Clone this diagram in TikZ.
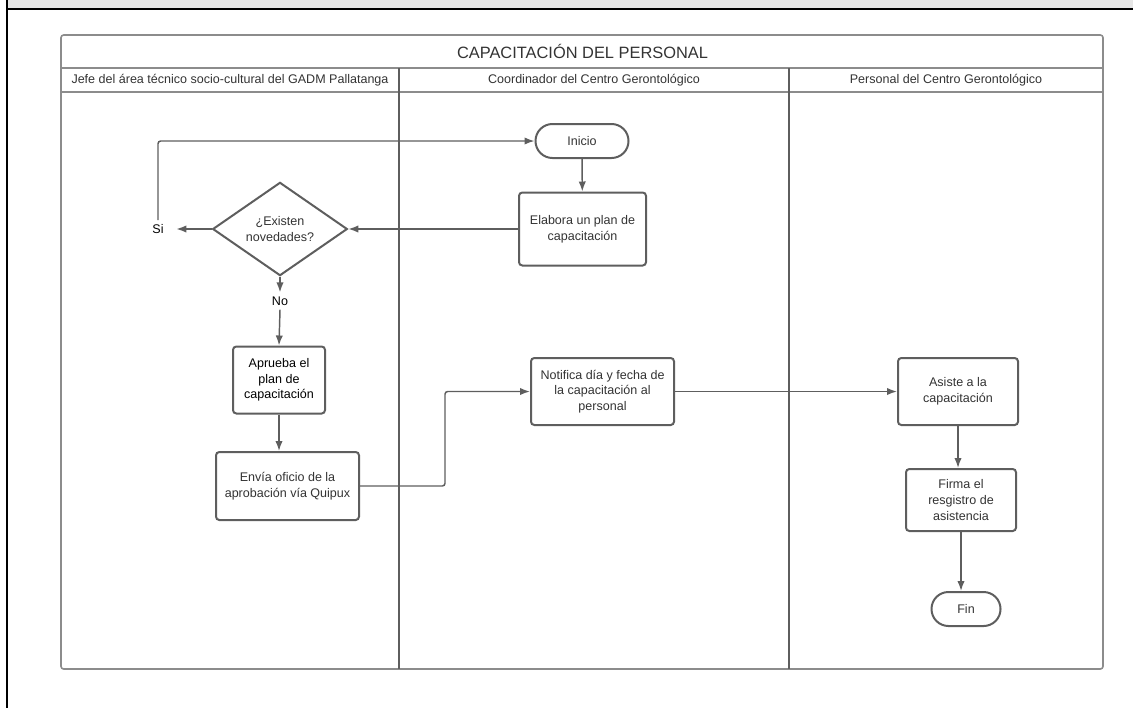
\documentclass[tikz,border=0pt]{standalone}
\usepackage{fontspec}
\setmainfont{Liberation Sans}
\usepackage{tikz}
\usetikzlibrary{arrows.meta, positioning, calc, shapes.geometric}
\definecolor{lnc}{HTML}{5E5E5E}
\definecolor{txc}{HTML}{333333}
\definecolor{poc}{HTML}{8C8C8C}
\definecolor{bandc}{HTML}{E6E6E6}

\begin{document}
\begin{tikzpicture}[x=0.75pt, y=-0.75pt, >=Latex,
    font=\fontsize{9.4}{11.8}\selectfont, text=txc,
    proc/.style={draw=lnc, line width=1.5pt, rounded corners=2.5pt,
      fill=white, align=center, inner sep=2pt},
    term/.style={proc, rounded corners=12.7pt, minimum height=25.5pt},
    decide/.style={diamond, draw=lnc, line width=1.5pt, fill=white,
      align=center, inner sep=0pt, minimum width=101pt, minimum height=70pt},
    flow/.style={->, draw=lnc, line width=1.1pt, rounded corners=2pt,
      >={Latex[length=7.5pt, width=5.5pt]}},
    lbl/.style={inner sep=3pt}]
  \useasboundingbox (0,0) rectangle (1137,708);
  % page frame
  \fill[bandc] (8,0) rectangle (1133,7.5);
  \draw[black, line width=1.5pt] (7,8.5) -- (1133,8.5);
  \draw[black, line width=1.5pt] (7,0) -- (7,708);
  % pool and lanes
  \draw[poc, line width=1.2pt, rounded corners=2pt] (61,35) rectangle (1103,669);
  \draw[poc, line width=1.2pt] (61,68) -- (1103,68) (61,92) -- (1103,92);
  \foreach \x in {399, 789}
    \draw[lnc, line width=1.2pt] (\x,68) -- (\x,669);
  \node[font=\fontsize{12.3}{14}\selectfont] (title) at (582.5,51) {CAPACITACIÓN DEL PERSONAL};
  \foreach \n/\x/\t in {jefe/230/Jefe del área técnico socio-cultural del GADM Pallatanga,
      coord/594/Coordinador del Centro Gerontológico,
      pers/946/Personal del Centro Gerontológico}
    \node (\n) at (\x,80) {\t};
  % steps
  \node[term, minimum width=69.75pt] (inicio) at (582,141) {Inicio};
  \node[proc, minimum width=95.25pt, minimum height=54.75pt] (elabora) at (582.5,229)
    {Elabora un plan de\\capacitación};
  \node[decide] (novedades) at (280,229) {¿Existen\\novedades?};
  \node[lbl, text=black] (si) at (158,229) {Si};
  \node[lbl, text=black] (no) at (280,301) {No};
  \node[proc, text=black, minimum width=69pt, minimum height=50.25pt] (aprueba) at (279,380)
    {Aprueba el\\plan de\\capacitación};
  \node[proc, minimum width=107.25pt, minimum height=51pt] (envia) at (287.5,486)
    {Envía oficio de la\\aprobación vía Quipux};
  \node[proc, minimum width=107.25pt, minimum height=50.25pt] (notifica) at (602.5,391.5)
    {Notifica día y fecha de\\la capacitación al\\personal};
  \node[proc, minimum width=90pt, minimum height=50.25pt] (asiste) at (958,391.5)
    {Asiste a la\\capacitación};
  \node[proc, minimum width=82.5pt, minimum height=46.5pt] (firma) at (961,500)
    {Firma el\\resgistro de\\asistencia};
  \node[term, minimum width=51.75pt] (fin) at (966,609) {Fin};
  % connectors
  \draw[flow] (inicio) -- (elabora);
  \draw[flow] (elabora.west) -- (novedades.east);
  \draw[flow, shorten >=6.4pt] (novedades.west) -- (si.east);
  \draw[flow] (si.north) |- (inicio.west);
  \draw[flow] (novedades.south) -- (no.north);
  \draw[flow] (no.south) -- (aprueba.north);
  \draw[flow] (aprueba.south) -- (aprueba.south |- envia.north);
  \draw[flow] (envia.east) -| ($(envia.east)!.5!(notifica.west)$) |- (notifica.west);
  \draw[flow] (notifica.east) -- (asiste.west);
  \draw[flow] (asiste.south) -- (asiste.south |- firma.north);
  \draw[flow] (firma.south) -- (firma.south |- fin.north);
\end{tikzpicture}
\end{document}
